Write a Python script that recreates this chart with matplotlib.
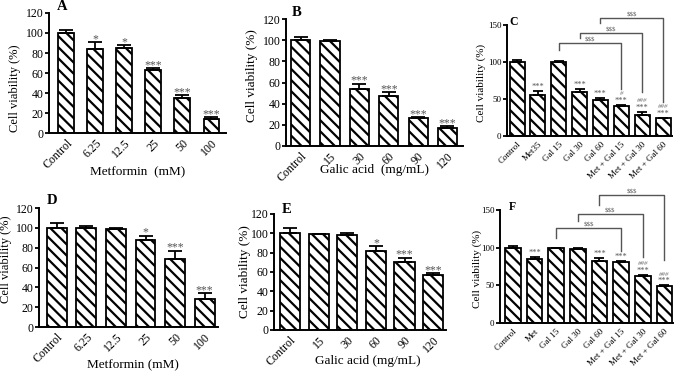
import matplotlib
matplotlib.use('Agg')
import matplotlib.pyplot as plt
import numpy as np

plt.rcParams['font.family'] = ['Liberation Serif', 'DejaVu Serif']
plt.rcParams['hatch.linewidth'] = 1.6
plt.rcParams['axes.linewidth'] = 1.4

W, H = 681, 374

# ---- data ----
met_doses = ['Control', '6.25', '12.5', '25', '50', '100']
gal_doses = ['Control', '15', '30', '60', '90', '120']
combo_c = ['Control', 'Met35', 'Gal 15', 'Gal 30', 'Gal 60', 'Met + Gal 15', 'Met + Gal 30', 'Met + Gal 60']
combo_f = ['Control', 'Met', 'Gal 15', 'Gal 30', 'Gal 60', 'Met + Gal 15', 'Met + Gal 30', 'Met + Gal 60']

a_vals = [100, 84, 85, 63, 35, 14]
a_err = [3, 7, 3, 2, 3, 2]
a_sig = ['', '*', '*', '***', '***', '***']

b_vals = [100, 99, 54, 47, 26, 17]
b_err = [3, 1.5, 5, 4, 1.5, 2]
b_sig = ['', '', '***', '***', '***', '***']

c_vals = [100, 56, 100, 59, 48, 41, 29, 24]
c_err = [3, 5, 1, 4, 3, 1, 4, 1]
c_sig = ['', '***', '', '***', '***', '***', '***', '***']
c_hash = ['', '', '', '', '', '#', '###', '###']

d_vals = [100, 100, 99, 88, 69, 28]
d_err = [5, 2, 1, 4, 8, 6]
d_sig = ['', '', '', '*', '***', '***']

e_vals = [100, 99, 98, 82, 70, 57]
e_err = [5, 0.5, 2, 5, 5, 2]
e_sig = ['', '', '', '*', '***', '***']

f_vals = [100, 85, 99, 98, 82, 81, 62, 49]
f_err = [2, 3, 1, 1.5, 4, 1.5, 2, 1]
f_sig = ['', '***', '', '', '***', '***', '***', '***']
f_hash = ['', '', '', '', '', '', '###', '###']

# brackets: (left bar, right bar, height, left drop, right drop)
c_brackets = [(2, 5, 126, 116, 63), (3, 6, 139, 133, 59), (4, 7, 159, 153, 46)]
f_brackets = [(2, 5, 126, 113, 95), (3, 6, 145, 135, 87), (4, 7, 170, 157, 83)]


def make_axes(fig, left, right, top, bottom):
    return fig.add_axes([left / W, 1 - bottom / H, (right - left) / W, (bottom - top) / H])


def fig_text(fig, x, y, s, **kw):
    fig.text(x / W, 1 - y / H, s, ha='center', va='center', **kw)


def draw_panel(ax, labels, vals, err, sig, ymax, yticks, xlim, width, fs, letter, letter_off,
               hashes=None, sigfs=8.5, sig_off=0, capsize=5):
    x = np.arange(len(labels))
    ax.bar(x, vals, width=width, color='white', edgecolor='black', hatch='\\\\\\',
           linewidth=1.3, zorder=2)
    ax.errorbar(x, vals, yerr=[np.zeros(len(err)), err], fmt='none', ecolor='black',
                elinewidth=1.3, capsize=capsize, capthick=1.3, zorder=3)
    for i in range(len(labels)):
        top = vals[i] + err[i]
        if sig[i]:
            ax.annotate(sig[i], xy=(x[i], top), xytext=(0, sig_off), textcoords='offset points',
                        ha='center', va='baseline', fontsize=sigfs, color='#555555',
                        annotation_clip=False)
        if hashes and hashes[i]:
            ax.annotate(hashes[i], xy=(x[i], top), xytext=(0, sig_off + 5.5),
                        textcoords='offset points', ha='center', va='baseline',
                        fontsize=sigfs - 1, color='#777777', style='italic',
                        annotation_clip=False)
    ax.set_ylim(0, ymax)
    ax.set_xlim(*xlim)
    ax.set_yticks(yticks)
    ax.set_xticks(x)
    ax.set_xticklabels(labels, rotation=45, ha='right', rotation_mode='anchor', fontsize=fs)
    ax.tick_params(axis='y', labelsize=fs, direction='out', length=3, width=1.3, pad=1)
    ax.tick_params(axis='x', length=0, pad=3)
    for s in ['top', 'right']:
        ax.spines[s].set_visible(False)
    ax.annotate(letter, xy=(0, 1), xycoords='axes fraction',
                xytext=(letter_off[0] * 0.72, letter_off[1] * 0.72), textcoords='offset points',
                fontsize=fs + 2, fontweight='bold', ha='center', va='center')


def draw_brackets(ax, brackets):
    for l, r, h, ld, rd in brackets:
        ax.plot([l, l, r, r], [ld, h, h, rd], color='#555555', lw=1.0, clip_on=False)
        ax.annotate('$$$', xy=((l + r) / 2, h), xytext=(0, 1), textcoords='offset points',
                    ha='center', va='baseline', fontsize=5, color='#555555',
                    annotation_clip=False, parse_math=False)


fig = plt.figure(figsize=(W / 100, H / 100), dpi=100)

ax = make_axes(fig, 49, 226, 13, 133)
draw_panel(ax, met_doses, a_vals, a_err, a_sig, 120, range(0, 121, 20), (-0.6, 5.5), 0.55,
           8.5, 'A', (13, 6))
fig_text(fig, 15, 88, 'Cell viability (%)', rotation=90, fontsize=9)
fig_text(fig, 138, 172, 'Metformin  (mM)', fontsize=9.5)

ax = make_axes(fig, 286, 463, 19, 146)
draw_panel(ax, gal_doses, b_vals, b_err, b_sig, 120, range(0, 121, 20), (-0.5, 5.53), 0.65,
           8.5, 'B', (11, 6))
fig_text(fig, 252, 76, 'Cell viability (%)', rotation=90, fontsize=9.5)
fig_text(fig, 375, 170, 'Galic acid  (mg/mL)', fontsize=9.5)

ax = make_axes(fig, 507, 672, 25, 136)
draw_panel(ax, combo_c, c_vals, c_err, c_sig, 150, [0, 50, 100, 150], (-0.48, 7.43), 0.72,
           6.5, 'C', (7, 3), hashes=c_hash, sigfs=6, sig_off=1.5, capsize=3.5)
draw_brackets(ax, c_brackets)
fig_text(fig, 481, 83, 'Cell viability (%)', rotation=90, fontsize=8)

ax = make_axes(fig, 39, 218, 208, 327)
draw_panel(ax, met_doses, d_vals, d_err, d_sig, 120, range(0, 121, 20), (-0.6, 5.45), 0.67,
           8.5, 'D', (13, 8))
fig_text(fig, 6, 259, 'Cell viability (%)', rotation=90, fontsize=9)
fig_text(fig, 133, 365, 'Metformin (mM)', fontsize=9.5)

ax = make_axes(fig, 274, 446, 214, 330)
draw_panel(ax, gal_doses, e_vals, e_err, e_sig, 120, range(0, 121, 20), (-0.56, 5.45), 0.7,
           8.5, 'E', (13, 4))
fig_text(fig, 245, 272, 'Cell viability (%)', rotation=90, fontsize=9.5)
fig_text(fig, 368, 361, 'Galic acid (mg/mL)', fontsize=9.5)

ax = make_axes(fig, 500, 673, 210, 323)
draw_panel(ax, combo_f, f_vals, f_err, f_sig, 150, [0, 50, 100, 150], (-0.6, 7.4), 0.72,
           6.5, 'F', (12, 3), hashes=f_hash, sigfs=6, sig_off=1.5, capsize=3.5)
draw_brackets(ax, f_brackets)
fig_text(fig, 477, 269, 'Cell viability (%)', rotation=90, fontsize=8)

fig.savefig('out.png', dpi=100)
